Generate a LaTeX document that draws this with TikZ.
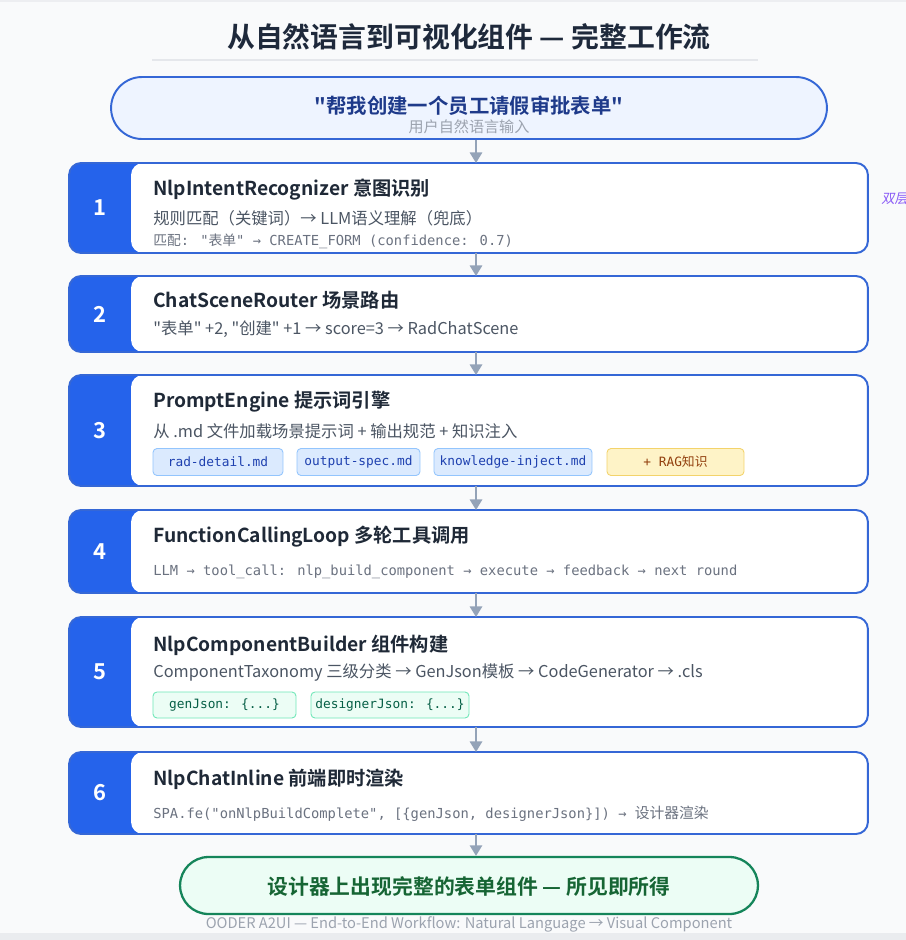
\documentclass[tikz,border=0pt]{standalone}
\usepackage{fontspec}
\setmainfont{Noto Sans CJK SC}[BoldFont={Noto Sans CJK SC Bold}, Ligatures=TeXOff]
\newfontfamily\monof{DejaVu Sans Mono}
\newfontfamily\cjkit{Noto Sans CJK SC}[FakeSlant=0.2]
\usetikzlibrary{arrows.meta}
\definecolor{bg}{HTML}{F9FAFB}
\definecolor{titlec}{HTML}{1E293B}
\definecolor{rulec}{HTML}{E5E7EB}
\definecolor{borderc}{HTML}{3567D6}
\definecolor{tabc}{HTML}{2563EB}
\definecolor{inpfill}{HTML}{EEF4FF}
\definecolor{inptxt}{HTML}{1E3A8A}
\definecolor{subc}{HTML}{9CA3AF}
\definecolor{headc}{HTML}{1F2937}
\definecolor{linec}{HTML}{4B5563}
\definecolor{monoc}{HTML}{6B7280}
\definecolor{arrowc}{HTML}{94A3B8}
\definecolor{tagbf}{HTML}{DBEAFE}
\definecolor{tagbd}{HTML}{93C5FD}
\definecolor{tagbt}{HTML}{1E40AF}
\definecolor{tagyf}{HTML}{FEF3C7}
\definecolor{tagyd}{HTML}{F3D36B}
\definecolor{tagyt}{HTML}{92400E}
\definecolor{taggf}{HTML}{ECFDF5}
\definecolor{taggd}{HTML}{6EE7B7}
\definecolor{taggt}{HTML}{065F46}
\definecolor{endfill}{HTML}{ECFDF5}
\definecolor{endbord}{HTML}{15855A}
\definecolor{endtxt}{HTML}{166534}
\definecolor{sidec}{HTML}{8B5CF6}
\tikzset{
  stepbox/.style={minimum width=15.98cm, inner sep=0pt, outer sep=0pt},
  numtxt/.style={text=white, font=\bfseries\fontsize{12.5}{14}\selectfont},
  ttl/.style={anchor=west, inner sep=0pt, text=headc, font=\bfseries\fontsize{10.95}{12}\selectfont},
  desc/.style={anchor=west, inner sep=0pt, text=linec, font=\fontsize{9.3}{11}\selectfont},
  mono/.style={anchor=west, inner sep=0pt, text=monoc, font=\monof\fontsize{7.85}{9}\selectfont},
  tagblue/.style={draw=tagbd, fill=tagbf, text=tagbt, rounded corners=0.08cm, line width=0.5pt, minimum height=0.54cm, inner sep=0pt, font=\monof\fontsize{7.3}{9}\selectfont},
  tagyel/.style={draw=tagyd, fill=tagyf, text=tagyt, rounded corners=0.08cm, line width=0.5pt, minimum height=0.54cm, inner sep=0pt, font=\monof\fontsize{7.3}{9}\selectfont},
  taggrn/.style={draw=taggd, fill=taggf, text=taggt, rounded corners=0.08cm, line width=0.5pt, minimum height=0.52cm, inner sep=0pt, font=\monof\fontsize{7.3}{9}\selectfont},
  flow/.style={draw=arrowc, line width=1.1pt, -{Triangle[width=7pt,length=6pt]}},
}
\newcommand\mystep[4]{%
  \node[stepbox, minimum height=#3] (#1) at (468.5,#2) {};
  \fill[tabc, rounded corners=0.24cm] (#1.north west) rectangle (#1.south east);
  \fill[white, rounded corners=0.24cm] ([xshift=1.24cm]#1.north west) rectangle (#1.south east);
  \draw[borderc, line width=1.1pt, rounded corners=0.24cm] (#1.north west) rectangle (#1.south east);
  \node[numtxt] (#1n) at ([xshift=0.62cm]#1.west) {#4};
}
\begin{document}
\begin{tikzpicture}[x=0.02cm, y=-0.02cm]
\useasboundingbox (0,0) rectangle (906,940);
\fill[bg] (0,0) rectangle (906,940);
\fill[rulec!70] (0,0) rectangle (906,2);
\fill[rulec!80] (0,933) rectangle (906,940);
\clip (0,0) rectangle (906,940);

% title
\node[text=titlec, font=\bfseries\fontsize{15.85}{18}\selectfont] (title) at (469,37) {从自然语言到可视化组件 — 完整工作流};
\draw[rulec, line width=0.6pt] (152,60) -- (758,60);

% input pill
\node[draw=borderc, fill=inpfill, line width=1.1pt, rounded corners=0.62cm, minimum width=14.32cm, minimum height=1.24cm, inner sep=0pt] (inp) at (469,108) {};
\node[text=inptxt, font=\bfseries\fontsize{11.6}{13}\selectfont] (inpt) at (469,106) {"帮我创建一个员工请假审批表单"};
\node[text=subc, font=\fontsize{8.6}{10}\selectfont] (inps) at (469,127) {用户自然语言输入};

\coordinate (ax) at (476,0);

% steps
\mystep{b1}{208}{1.8cm}{1}
\node[ttl] (t1) at (153,190) {NlpIntentRecognizer 意图识别};
\node[desc] (d1) at (153,218) {规则匹配（关键词）→ LLM语义理解（兜底）};
\node[mono] (m1) at (153,241) {{\rmfamily 匹配}: "{\rmfamily 表单}" → CREATE\_FORM (confidence: 0.7)};

\mystep{b2}{314}{1.52cm}{2}
\node[ttl] (t2) at (153,300) {ChatSceneRouter 场景路由};
\node[desc] (d2) at (153,329) {"表单" +2, "创建" +1 → score=3 → RadChatScene};

\mystep{b3}{430.5}{2.22cm}{3}
\node[ttl] (t3) at (153,402) {PromptEngine 提示词引擎};
\node[desc] (d3) at (153,431) {从 .md 文件加载场景提示词 + 输出规范 + 知识注入};
\node[tagblue, minimum width=2.6cm] (g1) at (218,462) {rad-detail.md};
\node[tagblue, minimum width=2.46cm] (g2) at (358.5,462) {output-spec.md};
\node[tagblue, minimum width=3.16cm] (g3) at (513,462) {knowledge-inject.md};
\node[tagyel, minimum width=2.74cm] (g4) at (675.5,462) {+ RAG{\rmfamily 知识}};

\mystep{b4}{551.5}{1.66cm}{4}
\node[ttl] (t4) at (153,537) {FunctionCallingLoop 多轮工具调用};
\node[mono] (m4) at (153,572) {LLM → tool\_call: nlp\_build\_component → execute → feedback → next round};

\mystep{b5}{672}{2.2cm}{5}
\node[ttl] (t5) at (153,645) {NlpComponentBuilder 组件构建};
\node[desc] (d5) at (153,673) {ComponentTaxonomy 三级分类 → GenJson模板 → CodeGenerator → .cls};
\node[taggrn, minimum width=2.86cm] (g5) at (224.5,705) {genJson: \{...\}};
\node[taggrn, minimum width=3.16cm] (g6) at (390,705) {designerJson: \{...\}};

\mystep{b6}{793}{1.64cm}{6}
\node[ttl] (t6) at (153,779) {NlpChatInline 前端即时渲染};
\node[mono] (m6) at (153,814) {SPA.fe("onNlpBuildComplete", [\{genJson, designerJson\}]) → {\rmfamily\fontsize{8.4}{9}\selectfont 设计器渲染}};

% end pill
\node[draw=endbord, fill=endfill, line width=1.3pt, rounded corners=0.57cm, minimum width=11.56cm, minimum height=1.14cm, inner sep=0pt] (fin) at (469,885.5) {};
\node[text=endtxt, font=\bfseries\fontsize{11.85}{13}\selectfont] (fint) at (469,887) {设计器上出现完整的表单组件 — 所见即所得};
\node[text=subc, font=\fontsize{8.35}{10}\selectfont] (foot) at (469,924) {OODER A2UI — End-to-End Workflow: Natural Language → Visual Component};

% side note (cut off at the right edge, as in the reference)
\node[anchor=west, text=sidec, font=\cjkit\fontsize{7.6}{9}\selectfont, inner sep=0pt] (side) at (881,199) {双层};

% connectors
\draw[flow] (inp.south -| ax) -- (b1.north -| ax);
\draw[flow] (b1.south -| ax) -- (b2.north -| ax);
\draw[flow] (b2.south -| ax) -- (b3.north -| ax);
\draw[flow] (b3.south -| ax) -- (b4.north -| ax);
\draw[flow] (b4.south -| ax) -- (b5.north -| ax);
\draw[flow] (b5.south -| ax) -- (b6.north -| ax);
\draw[flow] (b6.south -| ax) -- (fin.north -| ax);
\end{tikzpicture}
\end{document}
